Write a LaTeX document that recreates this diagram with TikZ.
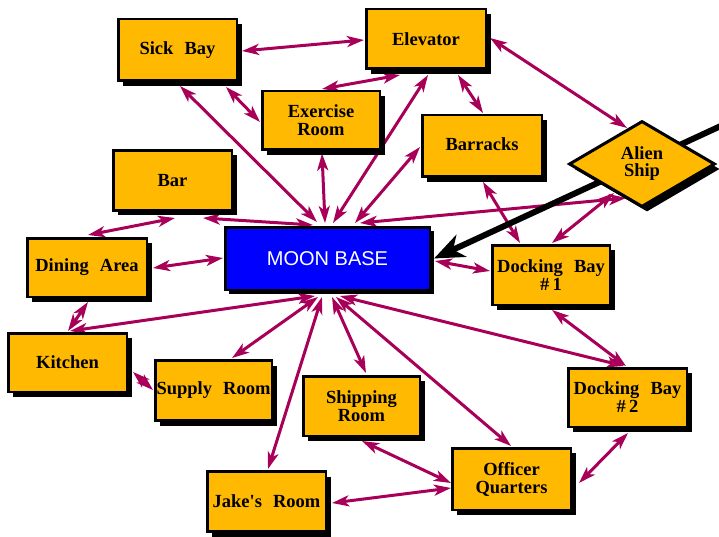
\documentclass[tikz,border=0pt]{standalone}
\usepackage{fontspec}
\setmainfont{Liberation Serif}
\newfontfamily\basefont{Liberation Sans}
\usetikzlibrary{shapes.geometric,shadows,arrows.meta,calc,backgrounds}
\definecolor{roomfill}{RGB}{255,185,0}
\definecolor{linkcol}{RGB}{168,0,88}
\definecolor{basefill}{RGB}{0,0,255}
\newcommand\wgap{\hspace{0.6em}}
\newcommand\lift[1]{\raisebox{3pt}{#1}}

\begin{document}
\begin{tikzpicture}[x=1pt,y=-1pt,
  solidshadow/.style={drop shadow={shadow xshift=5pt,shadow yshift=-5pt,fill=black,opacity=1}},
  roombox/.style={draw=black,line width=2.5pt,fill=roomfill,
    minimum width=118.5pt,minimum height=60pt,inner sep=0pt,align=center,
    font=\bfseries\fontsize{18.5}{18}\selectfont,solidshadow},
  shipbox/.style={shape=diamond,draw=black,line width=3pt,fill=roomfill,
    minimum width=146pt,minimum height=86pt,inner sep=0pt,align=center,
    font=\bfseries\fontsize{18.5}{17}\selectfont,solidshadow},
  basebox/.style={draw=black,line width=2.5pt,fill=basefill,text=white,
    minimum width=204.5pt,minimum height=62.5pt,inner sep=0pt,
    font=\basefont\fontsize{20}{20}\selectfont,
    drop shadow={shadow xshift=4pt,shadow yshift=-4pt,fill=black,opacity=1}},
  link/.style={draw=linkcol,line width=3pt,
    arrows={Stealth[length=17pt,width=11pt,inset=4.5pt]-Stealth[length=17pt,width=11pt,inset=4.5pt]}},
  inlink/.style={draw=black,line width=6pt,
    arrows={-Stealth[length=30pt,width=24pt,inset=9pt]}},
]
\useasboundingbox (0,0) rectangle (719,537);

% rooms of the base
\node[roombox,minimum height=61.5pt] (sick) at (177.5,50) {\lift{Sick\wgap Bay}};
\node[roombox,minimum width=119.5pt,minimum height=59.5pt] (elev) at (426,39) {Elevator};
\node[roombox,minimum width=117.5pt,minimum height=58.5pt] (exer) at (321,120.5) {Exercise\\Room};
\node[roombox,minimum width=119.5pt,minimum height=61.5pt] (barr) at (482,146) {\lift{Barracks}};
\node[shipbox] (alien) at (642,164) {Alien\\Ship};
\node[roombox] (bar) at (172.5,180.5) {Bar};
\node[roombox,minimum width=119.5pt,minimum height=58.5pt] (dining) at (87,267.5) {Dining\wgap Area};
\node[basebox] (moon) at (327.5,258.5) {MOON BASE};
\node[roombox,minimum width=117.5pt,minimum height=59.5pt] (dock1) at (551,275) {Docking\wgap Bay\\\#\,1};
\node[roombox,minimum height=58.5pt] (kitchen) at (67.5,362.5) {Kitchen};
\node[roombox,minimum width=116.5pt] (supply) at (213.5,390.5) {Supply\wgap Room};
\node[roombox,minimum width=116.5pt,minimum height=59.5pt] (ship) at (361.5,406) {Shipping\\Room};
\node[roombox,minimum height=58.5pt] (dock2) at (627.5,397.5) {Docking\wgap Bay\\\#\,2};
\node[roombox,minimum height=61.5pt] (officer) at (511.5,479) {Officer\\Quarters};
\node[roombox] (jake) at (266.5,501.5) {Jake\textquotesingle s\wgap Room};

\coordinate (inbound) at (724,124.5);

\begin{scope}[on background layer]
  \fill[white] (0,0) rectangle (719,537);
  % corridors
  \draw[link] ($(sick)+(64.5,1)$) -- ($(elev)+(-62,1)$);
  \draw[link] ($(sick)+(48.5,37)$) -- ($(exer)+(-61,1.5)$);
  \draw[link] ($(sick)+(2.5,36)$) -- ($(moon)+(-10.5,-36.5)$);
  \draw[link] ($(exer)+(1,-31.5)$) -- ($(elev)+(-26,36)$);
  \draw[link] ($(exer)+(1,33)$) -- ($(moon)+(-2.5,-35.5)$);
  \draw[link] ($(elev)+(2,36)$) -- ($(moon)+(5.5,-35.5)$);
  \draw[link] ($(elev)+(32,36)$) -- ($(barr)+(1,-33)$);
  \draw[link] ($(elev)+(64,-1)$) -- ($(alien)+(-15,-36)$);
  \draw[link] ($(barr)+(-62,1)$) -- ($(moon)+(27.5,-35.5)$);
  \draw[link] ($(barr)+(1,36)$) -- ($(dock1)+(-31,-32)$);
  \draw[link] ($(alien)+(-16,34)$) -- ($(moon)+(32.5,-35.5)$);
  \draw[link] ($(alien)+(-28,29)$) -- ($(dock1)+(1,-32)$);
  \draw[link] ($(moon)+(107.5,2.5)$) -- ($(dock1)+(-61,-4)$);
  \draw[link] ($(bar)+(2.5,37.5)$) -- ($(dining)+(1,-32.5)$);
  \draw[link] ($(bar)+(30.5,37.5)$) -- ($(moon)+(-14.5,-33.5)$);
  \draw[link] ($(dining)+(66,0.5)$) -- ($(moon)+(-104.5,-0.5)$);
  \draw[link] ($(dining)+(1,34.5)$) -- ($(kitchen)+(0.5,-31.5)$);
  \draw[link] ($(kitchen)+(2.5,-31.5)$) -- ($(moon)+(-12.5,37.5)$);
  \draw[link] ($(supply)+(-60.5,-0.5)$) -- ($(kitchen)+(65.5,9.5)$);
  \draw[link] ($(supply)+(18.5,-32.5)$) -- ($(moon)+(-9.5,38.5)$);
  \draw[link] ($(jake)+(1.5,-32.5)$) -- ($(moon)+(-5.5,38.5)$);
  \draw[link] ($(ship)+(4.5,-33)$) -- ($(moon)+(4.5,38.5)$);
  \draw[link] ($(officer)+(-0.5,-33)$) -- ($(moon)+(8.5,38.5)$);
  \draw[link] ($(dock2)+(-3.5,-31.5)$) -- ($(moon)+(12.5,37.5)$);
  \draw[link] ($(dock1)+(1,35)$) -- ($(dock2)+(-1.5,-31.5)$);
  \draw[link] ($(dock2)+(0.5,35.5)$) -- ($(officer)+(67.5,4)$);
  \draw[link] ($(ship)+(0.5,35)$) -- ($(officer)+(-60.5,4)$);
  \draw[link] ($(jake)+(65.5,1.5)$) -- ($(officer)+(-60.5,9)$);
  % arrival route
  \draw[inlink] (inbound) -- ($(moon)+(106.5,0)$);
\end{scope}
\end{tikzpicture}
\end{document}
